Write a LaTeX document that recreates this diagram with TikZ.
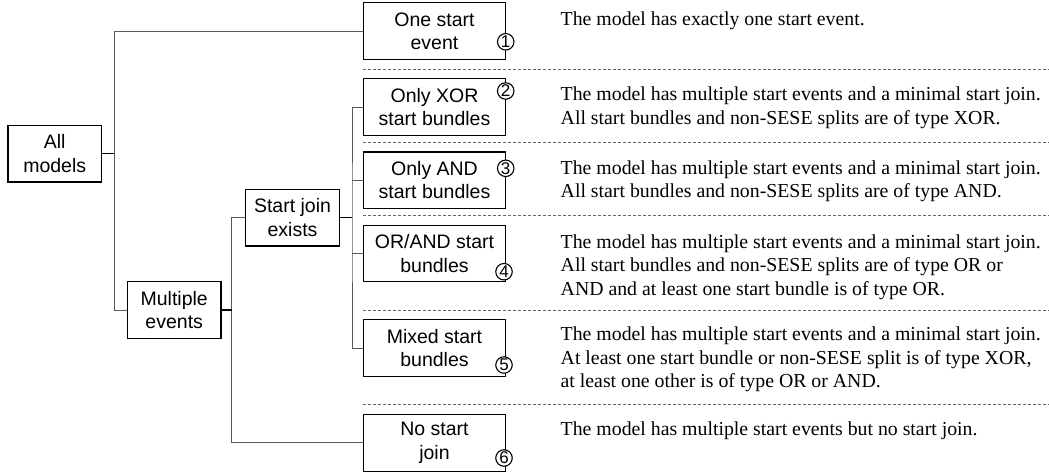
\documentclass[tikz,border=0pt]{standalone}
\usepackage{fontspec}
\setmainfont{Liberation Serif}
\setsansfont{Liberation Sans}
\begin{document}
\begin{tikzpicture}[x=1pt,y=-1pt,
  box/.style={draw=black,line width=1.1pt,fill=white,font=\sffamily\fontsize{19.5}{23.4}\selectfont,align=center,inner sep=0pt,minimum height=56.6pt},
  smallbox/.style={box,minimum width=93.5pt},
  widebox/.style={box,minimum width=142.4pt},
  num/.style={circle,draw=black,line width=1.1pt,fill=white,inner sep=0pt,minimum size=16.5pt,font=\sffamily\fontsize{17}{17}\selectfont},
  conn/.style={draw=black!65,line width=1pt},
  stub/.style={draw=black,line width=1.6pt},
  sep/.style={draw=black!60,line width=0.7pt,dash pattern=on 3pt off 2pt},
  desc/.style={anchor=base west,inner sep=0pt,font=\fontsize{19.8}{23.4}\selectfont}]
\useasboundingbox (0,0) rectangle (1049,475);

% separators
\foreach \yy in {69.3,142.7,215.5,310,404.3}
  \draw[sep] (363.3,\yy) -- (1049,\yy);

% boxes
\node[smallbox] (all)  at (54.7,153.65) {All\\models};
\node[smallbox] (mult) at (174.2,310) {Multiple\\events};
\node[smallbox] (join) at (292.5,217.65) {Start join\\exists};
\node[widebox] (one)    at (434.5,31)  {One start\\event};
\node[widebox] (xor)    at (434.5,107) {Only XOR\\start bundles};
\node[widebox] (and)    at (434.5,180.3) {Only AND\\start bundles};
\node[widebox] (orand)  at (434.5,253.5) {OR/AND start\\bundles};
\node[widebox] (mixed)  at (434.5,348) {Mixed start\\bundles};
\node[widebox] (nojoin) at (434.5,442.85) {No start\\join};

% numbers
\node[num] (n1) at (505.7,41.8)  {1};
\node[num] (n2) at (505.7,91)    {2};
\node[num] (n3) at (505.7,168.3) {3};
\node[num] (n4) at (504,271.7)   {4};
\node[num] (n5) at (504,365)     {5};
\node[num] (n6) at (504,458)     {6};

% connectors
\coordinate (a) at (114.3,153.65);
\coordinate (b) at (231.9,310);
\coordinate (c) at (352,217.65);
\draw[conn] (one.west) -| (a) |- (mult.west);
\draw[stub] (all.east) -- (a);
\draw[conn] (join.west) -| (b) |- (nojoin.west);
\draw[stub] (mult.east) -- (b);
\draw[conn] (xor.west) -| (c) |- (mixed.west);
\draw[conn] (c |- and.west) -- (and.west);
\draw[conn] (c |- orand.west) -- (orand.west);
\draw[stub] (join.east) -- (c);

% descriptions
\node[desc] (d1) at (560.5,25) {The model has exactly one start event.};
\node[desc] (d2) at (560.5,100.7) {\begin{tabular}[t]{@{}l@{}}The model has multiple start events and a minimal start join.\\All start bundles and non-SESE splits are of type XOR.\end{tabular}};
\node[desc] (d3) at (560.5,174.2) {\begin{tabular}[t]{@{}l@{}}The model has multiple start events and a minimal start join.\\All start bundles and non-SESE splits are of type AND.\end{tabular}};
\node[desc] (d4) at (560.5,248.4) {\begin{tabular}[t]{@{}l@{}}The model has multiple start events and a minimal start join.\\All start bundles and non-SESE splits are of type OR or\\AND and at least one start bundle is of type OR.\end{tabular}};
\node[desc] (d5) at (560.5,340.7) {\begin{tabular}[t]{@{}l@{}}The model has multiple start events and a minimal start join.\\At least one start bundle or non-SESE split is of type XOR,\\at least one other is of type OR or AND.\end{tabular}};
\node[desc] (d6) at (560.5,435) {The model has multiple start events but no start join.};
\end{tikzpicture}
\end{document}
